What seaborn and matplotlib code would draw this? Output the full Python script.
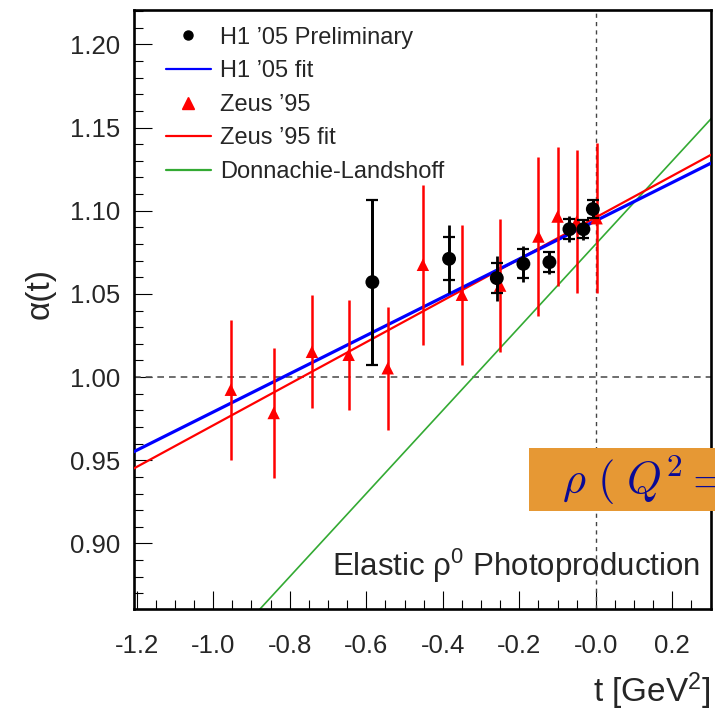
import numpy as np
import pandas as pd
import seaborn as sns
import matplotlib
matplotlib.use("Agg")
import matplotlib.pyplot as plt
from matplotlib.lines import Line2D
from matplotlib.patches import Rectangle
from matplotlib.ticker import MultipleLocator

# ---------------- data ----------------
h1_t = [-0.584, -0.3835, -0.2588, -0.1893, -0.1213, -0.069, -0.0324, -0.0078]
h1_alpha = [1.0571, 1.0711, 1.0595, 1.0681, 1.0691, 1.0889, 1.0889, 1.1010]
h1_stat = [0.0496, 0.0130, 0.0092, 0.0088, 0.0060, 0.0060, 0.0053, 0.0056]
h1_tot = [0.0496, 0.0204, 0.0135, 0.0108, 0.0070, 0.0078, 0.0063, 0.0056]

zeus_t = [-0.954, -0.842, -0.742, -0.646, -0.544, -0.452, -0.350, -0.250,
          -0.150, -0.100, -0.050, 0.002]
zeus_alpha = [0.9924, 0.9784, 1.0152, 1.0134, 1.0053, 1.0675, 1.0495, 1.0550,
              1.0845, 1.0965, 1.0935, 1.0955]
zeus_err = [0.042, 0.039, 0.034, 0.033, 0.037, 0.048, 0.042, 0.040,
            0.048, 0.042, 0.043, 0.045]

# linear trajectories alpha(t) = alpha0 + alpha' t
fit_names = ["H1 \u201905 fit", "Zeus \u201995 fit", "Donnachie-Landshoff"]
fit_alpha0 = [1.094, 1.096, 1.080]
fit_slope = [0.115, 0.125, 0.250]
fit_t_range = [-1.3, 0.4]

x_ticks = [-1.2, -1.0, -0.8, -0.6, -0.4, -0.2, 0.0, 0.2]
x_tick_labels = ["-1.2", "-1.0", "-0.8", "-0.6", "-0.4", "-0.2", "-0.0", "0.2"]
y_ticks = [0.90, 0.95, 1.00, 1.05, 1.10, 1.15, 1.20]
y_tick_labels = ["0.90", "0.95", "1.00", "1.05", "1.10", "1.15", "1.20"]

# ---------------- style ----------------
sns.set_theme(style="white")
plt.rcParams["font.family"] = ["Liberation Sans", "DejaVu Sans"]
plt.rcParams["mathtext.fontset"] = "custom"
plt.rcParams["mathtext.rm"] = "Liberation Sans"
plt.rcParams["mathtext.it"] = "Liberation Sans:italic"
plt.rcParams["mathtext.bf"] = "Liberation Sans:bold"

fig = plt.figure(figsize=(7.15, 7.12), dpi=100)
fig.patch.set_facecolor("white")
ax = fig.add_axes([0.1874, 0.1447, 0.8070, 0.8413])
ax.set_facecolor("white")

# reference dashed lines
ax.axhline(1.0, color="#555555", lw=1.2, ls=(0, (4, 3)), zorder=1)
ax.axvline(0.0, color="#444444", lw=1.0, ls=(0, (3, 3)), zorder=1)

# fit lines
fit_colors = ["#0000ff", "#ff0000", "#33aa33"]
fit_widths = [2.3, 1.6, 1.2]
fit_z = [4, 3, 2]
t_line = np.array(fit_t_range)
for name, a0, sl, c, w, z in zip(fit_names, fit_alpha0, fit_slope,
                                 fit_colors, fit_widths, fit_z):
    df = pd.DataFrame({"t": t_line, "alpha": a0 + sl * t_line})
    sns.lineplot(data=df, x="t", y="alpha", color=c, lw=w, ax=ax,
                 zorder=z, legend=False)

# Zeus '95
ax.errorbar(zeus_t, zeus_alpha, yerr=zeus_err, fmt="none", ecolor="#ff0000",
            elinewidth=1.8, capsize=0, zorder=5)
sns.scatterplot(x=zeus_t, y=zeus_alpha, marker="^", s=80, color="#ff0000",
                edgecolor="none", ax=ax, zorder=6, legend=False)

# H1 '05
ax.errorbar(h1_t, h1_alpha, yerr=h1_tot, fmt="none", ecolor="black",
            elinewidth=2.0, capsize=0, zorder=7)
ax.errorbar(h1_t, h1_alpha, yerr=h1_stat, fmt="none", ecolor="black",
            elinewidth=2.0, capsize=4.0, capthick=1.6, zorder=7)
sns.scatterplot(x=h1_t, y=h1_alpha, marker="o", s=100, color="black",
                edgecolor="none", ax=ax, zorder=8, legend=False)

# axes
ax.set_xlim(-1.207, 0.301)
ax.set_ylim(0.8606, 1.2207)
ax.set_xticks(x_ticks)
ax.set_xticklabels(x_tick_labels)
ax.set_yticks(y_ticks)
ax.set_yticklabels(y_tick_labels)
ax.xaxis.set_minor_locator(MultipleLocator(0.05))
ax.yaxis.set_minor_locator(MultipleLocator(0.01))
ax.tick_params(which="both", direction="in", color="black", top=False,
               right=False, bottom=True, left=True)
ax.tick_params(which="major", length=13, width=0.8, labelsize=18.5)
ax.tick_params(which="minor", length=6.5, width=0.8)
ax.tick_params(axis="x", which="major", pad=18)
ax.tick_params(axis="y", which="major", pad=10)
for sp in ax.spines.values():
    sp.set_color("black")
    sp.set_linewidth(1.9)
    sp.set_visible(True)

ax.set_xlabel("t [GeV$^{2}$]", fontsize=24, ha="right", va="center")
ax.xaxis.set_label_coords(1.0, -0.138)
ax.set_ylabel("\u03b1(t)", fontsize=24, va="center")
ax.yaxis.set_label_coords(-0.163, 0.526)

# legend
handles = [
    Line2D([], [], ls="none", marker="o", ms=6.5, color="black"),
    Line2D([], [], color="#0000ff", lw=1.6),
    Line2D([], [], ls="none", marker="^", ms=9, color="#ff0000"),
    Line2D([], [], color="#ff0000", lw=1.6),
    Line2D([], [], color="#33aa33", lw=1.6),
]
labels = ["H1 \u201905 Preliminary", fit_names[0], "Zeus \u201995",
          fit_names[1], fit_names[2]]
leg = ax.legend(handles, labels, loc="upper left",
                bbox_to_anchor=(0.055, 0.972), frameon=False, fontsize=17,
                handlelength=1.9, handletextpad=0.4, labelspacing=0.49,
                borderpad=0, borderaxespad=0)

ax.text(0.981, 0.0556, "Elastic \u03c1$^{0}$ Photoproduction", fontsize=22.5,
        ha="right", va="baseline", transform=ax.transAxes, zorder=9)

# orange banner at the lower right (cut at the figure edge, as in the original)
box = Rectangle((529 / 715, 1 - 510.7 / 712), 0.4, (510.7 - 448.3) / 712,
                transform=fig.transFigure, facecolor="#e69834",
                edgecolor="none", zorder=10)
fig.add_artist(box)
fig.text(561.7 / 715, 1 - 493 / 712, r"$\rho\ (\;Q^2 = 0)$", fontsize=32,
         color="#0a0a96", math_fontfamily="cm", ha="left", va="baseline",
         zorder=11)

fig.savefig("out.png", dpi=100, facecolor="white")
